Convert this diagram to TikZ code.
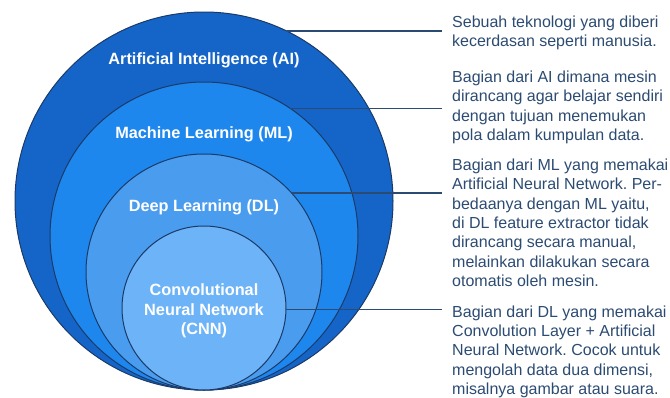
\documentclass[tikz,border=0pt]{standalone}
\usepackage{fontspec}
\setmainfont{Liberation Sans}
\frenchspacing
\definecolor{aiblue}{HTML}{1565C8}
\definecolor{mlblue}{HTML}{1E87EE}
\definecolor{dlblue}{HTML}{4A9CEE}
\definecolor{cnnblue}{HTML}{6DB3F8}
\definecolor{rim}{HTML}{1B3A68}
\definecolor{ink}{HTML}{2C4B72}
\begin{document}
\begin{tikzpicture}[x=1pt,y=-1pt,
  ring/.style={circle, draw=rim, line width=1pt, inner sep=0pt, outer sep=0pt},
  lbl/.style={text=white, font=\fontsize{16.3}{19.5}\selectfont\bfseries, inner sep=0pt},
  desc/.style={text=ink, font=\fontsize{16}{19.4}\selectfont, anchor=north west, align=left, inner sep=0pt},
  lead/.style={draw=ink, line width=1.3pt}]
\useasboundingbox (0,0) rectangle (670,397);
% nested sets
\node[ring, fill=aiblue, minimum size=378pt] (ai) at (204,201) {};
\node[ring, fill=mlblue, minimum size=308pt] (ml) at (204,236) {};
\node[ring, fill=dlblue, minimum size=236pt] (dl) at (204,272) {};
\node[ring, fill=cnnblue, minimum size=164pt] (cnn) at (204,308) {};
% labels
\node[lbl, anchor=base] (ailbl) at (204,64) {Artificial Intelligence (AI)};
\node[lbl, anchor=base] (mllbl) at (204,138) {Machine Learning (ML)};
\node[lbl, anchor=base] (dllbl) at (204,211) {Deep Learning (DL)};
\node[lbl, anchor=north, align=center] (cnnlbl) at (204,283.5) {Convolutional\\Neural Network\\(CNN)};
% descriptions
\node[desc] (d1) at (452,15.5) {Sebuah teknologi yang diberi\\kecerdasan seperti manusia.};
\node[desc] (d2) at (452,70.5) {Bagian dari AI dimana mesin\\dirancang agar belajar sendiri\\dengan tujuan menemukan\\pola dalam kumpulan data.};
\node[desc] (d3) at (452,158.5) {Bagian dari ML yang memakai\\Artificial Neural Network. Per-\\bedaanya dengan ML yaitu,\\di DL feature extractor tidak\\dirancang secara manual,\\melainkan dilakukan secara\\otomatis oleh mesin.};
\node[desc] (d4) at (452,305.2) {Bagian dari DL yang memakai\\Convolution Layer + Artificial\\Neural Network. Cocok untuk\\mengolah data dua dimensi,\\misalnya gambar atau suara.};
% leader lines
\coordinate (e) at (442,0);
\draw[lead] (ai.64.08) -- (ai.64.08 -| e);
\draw[lead] (ml.56.24) -- (ml.56.24 -| e);
\draw[lead] (dl.42.03) -- (dl.42.03 -| e);
\draw[lead] (cnn.-1.4) -- (cnn.-1.4 -| e);
\end{tikzpicture}
\end{document}
